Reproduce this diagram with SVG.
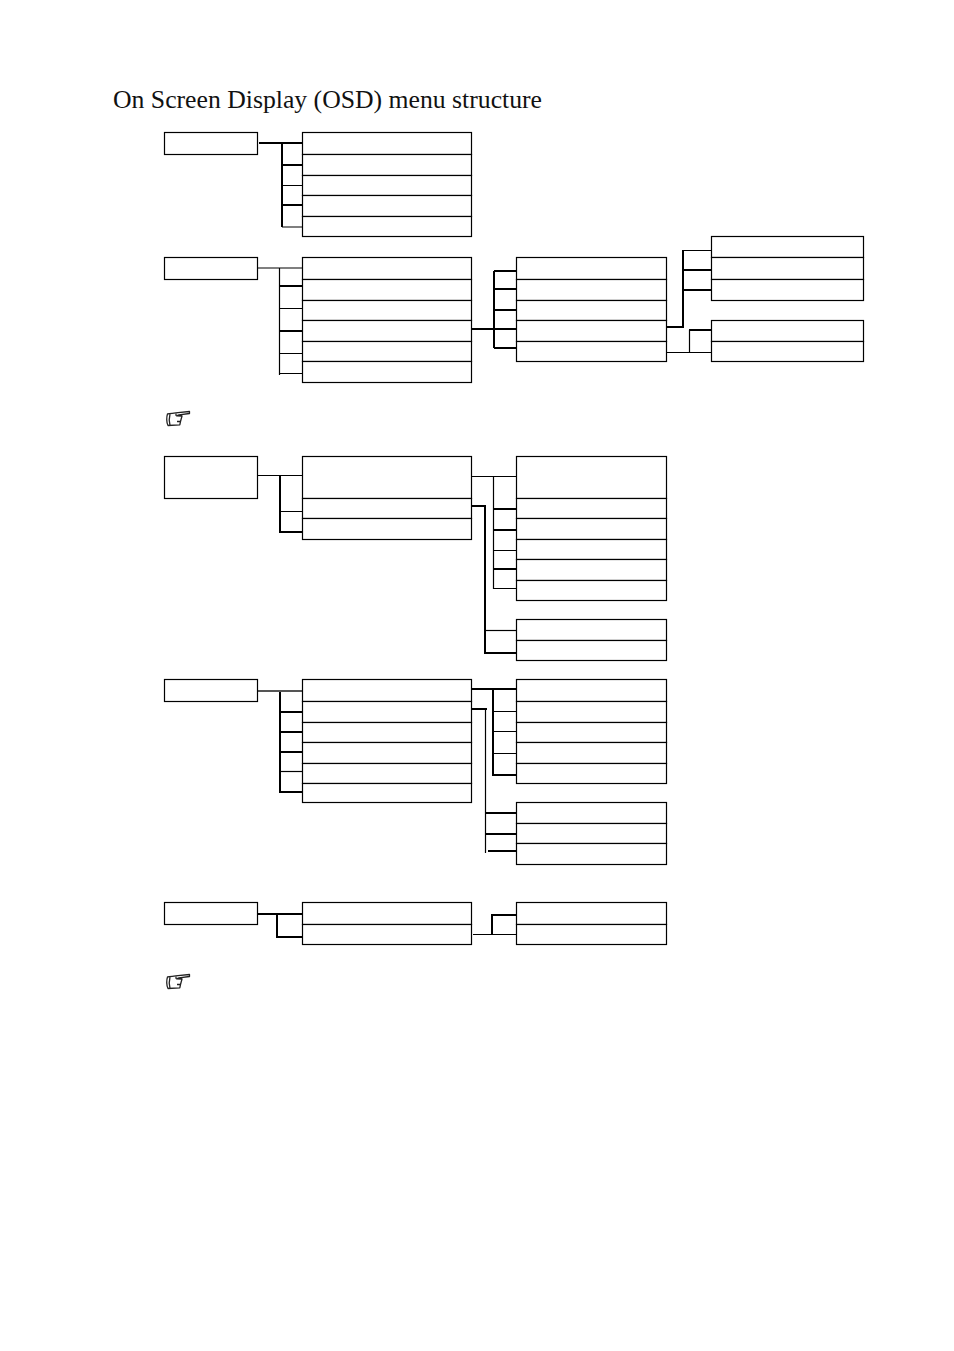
<svg xmlns="http://www.w3.org/2000/svg" width="954" height="1351" viewBox="0 0 954 1351">
<style>
rect{fill:#fff;stroke:#000;stroke-width:1.2}
.t{fill:none;stroke:#000;stroke-width:1.2}
.k{fill:none;stroke:#000;stroke-width:2}
.h{fill:none;stroke:#222;stroke-width:1.3;stroke-linejoin:round}
text{font-family:"Liberation Serif",serif;font-size:25px;fill:#111}
</style>
<defs>
<g id="hand">
<path class="h" d="M167.500 414C170.500 413.500 175 413.300 178 412.700L189.500 411.500V413.500L179 414.800L176.500 415.800L182 416L180.500 421.500L179.800 424.800L168 425.500C166.400 422.500 166.400 417 167.500 414Z"/>
<path class="h" d="M170 414C169 418 169 422 170 425.300M176 413.500V415.800M180.500 421.500H177"/>
</g>
</defs>
<text id="title" x="113" y="108" textLength="429" lengthAdjust="spacingAndGlyphs">On Screen Display (OSD) menu structure</text>
<g id="connectors">
<path class="k" d="M259 143H304M282 143V227M282 165H305M282 205H303"/>
<path class="t" d="M282 185.500H304M282 227H303"/>
<path class="t" d="M258 268H302.500M279.500 268V375M279.500 308.500H302.500M279.500 353.500H304M279.500 373.500H302.500"/>
<path class="k" d="M279.500 286H302.500M279.500 331H302.500"/>
<path class="k" d="M471.500 329H494M494 271V348M494 271H516.500M494 289H516.500M494 310H516.500M494 329H516.500M494 348H516.500"/>
<path class="k" d="M666.500 327H683V250M683 270H711.500M683 290H711.500"/>
<path class="t" d="M683 250.500H711.500M666.500 352.500H711.500M689.500 352.500V330"/>
<path class="k" d="M689 330H711.500"/>
<path class="t" d="M258 475.500H302.500M280 511.500H302.500"/>
<path class="k" d="M280 475.500V532H302.500"/>
<path class="t" d="M471.500 476.500H516.500M493.500 476.500V588.500H516.500M493.500 550.500H516.500"/>
<path class="k" d="M493.500 509H516.500M493.500 530H516.500M493.500 569H516.500"/>
<path class="k" d="M471.500 506H485V653H516.500"/>
<path class="t" d="M485 630.500H516.500"/>
<path class="k" style="stroke:#555" d="M258 691H302.500"/>
<path class="k" d="M280 692V792H302.500M280 712H304M280 732H304M280 752H302.500"/>
<path class="t" d="M280 771.500H302.500"/>
<path class="k" d="M471.500 689H516.500M493 689V775H516.500"/>
<path class="t" d="M493 711.500H516.500M493 731.500H518M493 753.500H516.500"/>
<path class="k" d="M471.500 709H487"/>
<path class="t" d="M485.500 709V853"/>
<path class="k" d="M485 813H516.500M485 834H516.500M488 851H518"/>
<path class="k" d="M258 914H302.500M277 914V937H302.500"/>
<path class="t" d="M473 934.500H516.500"/>
<path class="k" d="M492 934.500V915H516.500"/>
</g>
<g id="menu-1-root"><rect x="164.500" y="132.500" width="93" height="22"/></g>
<g id="menu-1-items">
<rect x="302.500" y="132.500" width="169" height="22"/><rect x="302.500" y="154.500" width="169" height="21"/><rect x="302.500" y="175.500" width="169" height="20"/><rect x="302.500" y="195.500" width="169" height="21"/><rect x="302.500" y="216.500" width="169" height="20"/>
</g>
<g id="menu-2-root"><rect x="164.500" y="257.500" width="93" height="22"/></g>
<g id="menu-2-items">
<rect x="302.500" y="257.500" width="169" height="22"/><rect x="302.500" y="279.500" width="169" height="21"/><rect x="302.500" y="300.500" width="169" height="20"/><rect x="302.500" y="320.500" width="169" height="21"/><rect x="302.500" y="341.500" width="169" height="20"/><rect x="302.500" y="361.500" width="169" height="21"/>
</g>
<g id="menu-2-sub">
<rect x="516.500" y="257.500" width="150" height="22"/><rect x="516.500" y="279.500" width="150" height="21"/><rect x="516.500" y="300.500" width="150" height="20"/><rect x="516.500" y="320.500" width="150" height="21"/><rect x="516.500" y="341.500" width="150" height="20"/>
</g>
<g id="menu-2-sub-a">
<rect x="711.500" y="236.500" width="152" height="21"/><rect x="711.500" y="257.500" width="152" height="22"/><rect x="711.500" y="279.500" width="152" height="21"/>
</g>
<g id="menu-2-sub-b">
<rect x="711.500" y="320.500" width="152" height="21"/><rect x="711.500" y="341.500" width="152" height="20"/>
</g>
<g id="note-1"><use href="#hand"/></g>
<g id="menu-3-root"><rect x="164.500" y="456.500" width="93" height="42"/></g>
<g id="menu-3-items">
<rect x="302.500" y="456.500" width="169" height="42"/><rect x="302.500" y="498.500" width="169" height="20"/><rect x="302.500" y="518.500" width="169" height="21"/>
</g>
<g id="menu-3-sub-a">
<rect x="516.500" y="456.500" width="150" height="42"/><rect x="516.500" y="498.500" width="150" height="20"/><rect x="516.500" y="518.500" width="150" height="21"/><rect x="516.500" y="539.500" width="150" height="20"/><rect x="516.500" y="559.500" width="150" height="21"/><rect x="516.500" y="580.500" width="150" height="20"/>
</g>
<g id="menu-3-sub-b">
<rect x="516.500" y="619.500" width="150" height="21"/><rect x="516.500" y="640.500" width="150" height="20"/>
</g>
<g id="menu-4-root"><rect x="164.500" y="679.500" width="93" height="22"/></g>
<g id="menu-4-items">
<rect x="302.500" y="679.500" width="169" height="22"/><rect x="302.500" y="701.500" width="169" height="21"/><rect x="302.500" y="722.500" width="169" height="20"/><rect x="302.500" y="742.500" width="169" height="21"/><rect x="302.500" y="763.500" width="169" height="20"/><rect x="302.500" y="783.500" width="169" height="19"/>
</g>
<g id="menu-4-sub-a">
<rect x="516.500" y="679.500" width="150" height="22"/><rect x="516.500" y="701.500" width="150" height="21"/><rect x="516.500" y="722.500" width="150" height="20"/><rect x="516.500" y="742.500" width="150" height="21"/><rect x="516.500" y="763.500" width="150" height="20"/>
</g>
<g id="menu-4-sub-b">
<rect x="516.500" y="802.500" width="150" height="21"/><rect x="516.500" y="823.500" width="150" height="20"/><rect x="516.500" y="843.500" width="150" height="21"/>
</g>
<g id="menu-5-root"><rect x="164.500" y="902.500" width="93" height="22"/></g>
<g id="menu-5-items">
<rect x="302.500" y="902.500" width="169" height="22"/><rect x="302.500" y="924.500" width="169" height="20"/>
</g>
<g id="menu-5-sub">
<rect x="516.500" y="902.500" width="150" height="22"/><rect x="516.500" y="924.500" width="150" height="20"/>
</g>
<g id="note-2"><use href="#hand" y="563"/></g>
</svg>
